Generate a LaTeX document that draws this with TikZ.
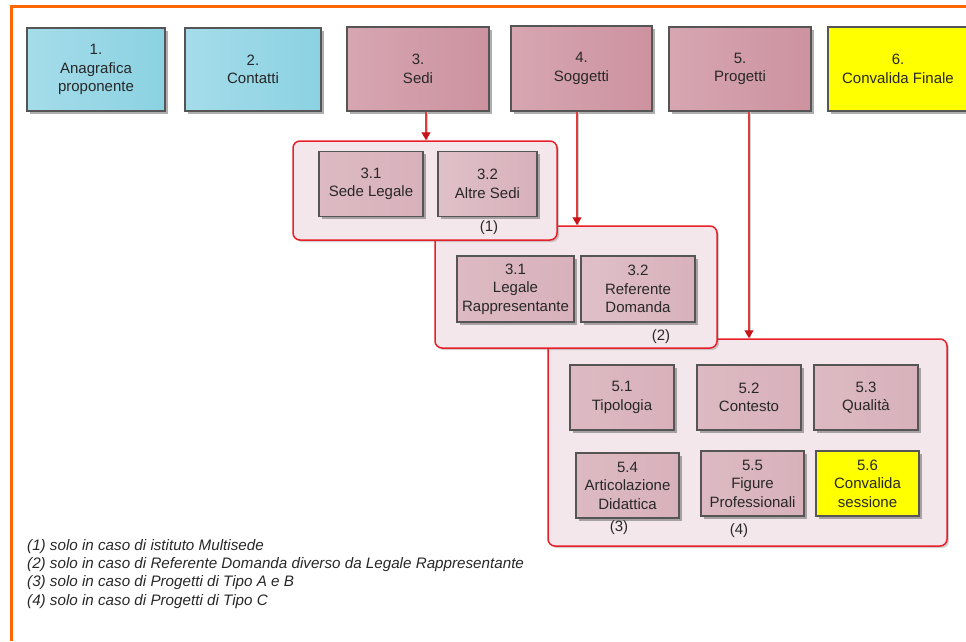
\documentclass[tikz,border=0pt]{standalone}
\usepackage{fontspec}
\setmainfont{Liberation Sans}
\usetikzlibrary{shadows,arrows.meta}
\definecolor{frameorange}{RGB}{255,102,0}
\definecolor{bluebox}{RGB}{139,210,226}
\definecolor{bluelight}{RGB}{165,220,234}
\definecolor{pinkbox}{RGB}{205,146,160}
\definecolor{pinklight}{RGB}{214,166,177}
\definecolor{subpink}{RGB}{216,177,187}
\definecolor{subpinklight}{RGB}{224,192,200}
\definecolor{grpfill}{RGB}{243,231,235}
\definecolor{grpred}{RGB}{232,30,40}
\definecolor{boxborder}{RGB}{85,85,85}
\definecolor{txt}{RGB}{40,40,40}
\definecolor{arrred}{RGB}{200,20,25}
\definecolor{arrline}{RGB}{225,60,60}
\definecolor{yel}{RGB}{255,255,0}
\tikzset{
  box/.style={draw=boxborder, line width=1.3pt, align=center, text=txt,
    font=\fontsize{15}{18.5}\selectfont, inner sep=0pt,
    drop shadow={shadow xshift=2.5pt, shadow yshift=-2.5pt, opacity=0.45, fill=black!70}},
  topbox/.style={box, minimum height=83pt},
  subbox/.style={box, minimum width=104pt, minimum height=65pt},
  grp/.style={draw=grpred, line width=1.5pt, rounded corners=7pt, fill=grpfill,
    drop shadow={shadow xshift=2pt, shadow yshift=-2pt, opacity=0.3, fill=black!60}},
  lbl/.style={text=txt, font=\fontsize{15}{16}\selectfont, inner sep=0pt},
  note/.style={anchor=west, text=txt, font=\fontsize{15.2}{18}\selectfont\itshape, inner sep=0pt},
  arr/.style={draw=arrline, line width=1.3pt,
    preaction={draw=black!18, line width=1pt, transform canvas={xshift=1.8pt}, -},
    -{Triangle[width=9pt,length=8pt,color=arrred]}}
}
\begin{document}
\begin{tikzpicture}[x=1pt,y=-1pt]
\useasboundingbox (0,0) rectangle (966,641);
\draw[frameorange, line width=3pt] (11,641) -- (11,6) -- (966,6);

% top row
\node[topbox, minimum width=138pt, left color=bluelight, right color=bluebox] (n1) at (96,69.5) {1.\\Anagrafica\\proponente};
\node[topbox, minimum width=136pt, left color=bluelight, right color=bluebox] (n2) at (253,69.5) {2.\\Contatti};
\node[topbox, minimum width=142pt, minimum height=84pt, left color=pinklight, right color=pinkbox] (n3) at (418,69) {3.\\Sedi};
\node[topbox, minimum width=141pt, minimum height=85pt, left color=pinklight, right color=pinkbox] (n4) at (581.5,68.5) {4.\\Soggetti};
\node[topbox, minimum width=142pt, minimum height=84pt, left color=pinklight, right color=pinkbox] (n5) at (740,69) {5.\\Progetti};
\node[topbox, minimum width=140pt, minimum height=84pt, fill=yel] (n6) at (898,69) {6.\\Convalida Finale};

% groups (drawn back to front)
\node[grp, minimum width=399pt, minimum height=207pt] (g3) at (747.5,442.5) {};
\node[grp, minimum width=282pt, minimum height=122pt] (g2) at (576,287) {};
\node[grp, minimum width=264pt, minimum height=99pt] (g1) at (425,190.5) {};

% group 1 contents
\node[subbox, left color=subpinklight!60!subpink, right color=subpink] (s31) at (371,184) {3.1\\Sede Legale};
\node[subbox, minimum width=99pt, left color=subpinklight, right color=subpink] (s32) at (487.5,184) {3.2\\Altre Sedi};
\node[lbl] (l1) at (489,228) {(1)};

% group 2 contents
\node[subbox, minimum width=117pt, minimum height=66pt, left color=subpinklight!60!subpink, right color=subpink] (r31) at (515.5,289) {3.1\\Legale\\Rappresentante};
\node[subbox, minimum width=114pt, minimum height=66pt, left color=subpinklight, right color=subpink] (r32) at (638,289) {3.2\\Referente\\Domanda};
\node[lbl] (l2) at (661,337) {(2)};

% group 3 contents
\node[subbox, left color=subpinklight!60!subpink, right color=subpink] (p51) at (622,397.5) {5.1\\Tipologia};
\node[subbox, left color=subpinklight!60!subpink, right color=subpink] (p52) at (749,397.5) {5.2\\Contesto};
\node[subbox, left color=subpinklight!60!subpink, right color=subpink] (p53) at (866,397.5) {5.3\\Qualità};
\node[subbox, minimum width=103pt, left color=subpinklight!60!subpink, right color=subpink] (p54) at (627.5,485.5) {5.4\\Articolazione\\Didattica};
\node[subbox, minimum width=103pt, left color=subpinklight!60!subpink, right color=subpink] (p55) at (752.5,483.5) {5.5\\Figure\\Professionali};
\node[subbox, minimum width=103pt, fill=yel] (p56) at (867.5,483.5) {5.6\\Convalida\\sessione};
\node[lbl] (l3) at (619,528) {(3)};
\node[lbl] (l4) at (739,531) {(4)};

% arrows
\draw[arr] ([xshift=8pt]n3.south) -- ([xshift=8pt]n3.south |- g1.north);
\draw[arr] ([xshift=-4.5pt]n4.south) -- ([xshift=-4.5pt]n4.south |- g2.north);
\draw[arr] ([xshift=9pt]n5.south) -- ([xshift=9pt]n5.south |- g3.north);

% notes
\node[note] (f1) at (27,547) {(1) solo in caso di istituto Multisede};
\node[note] (f2) at (27,565) {(2) solo in caso di Referente Domanda diverso da Legale Rappresentante};
\node[note] (f3) at (27,583) {(3) solo in caso di Progetti di Tipo A e B};
\node[note] (f4) at (27,602) {(4) solo in caso di Progetti di Tipo C};
\end{tikzpicture}
\end{document}
